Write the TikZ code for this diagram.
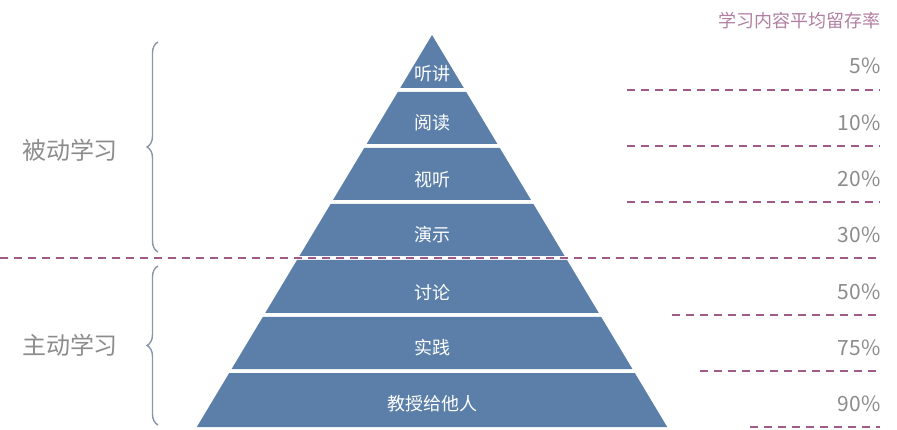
\documentclass[tikz,border=0pt]{standalone}
\usepackage{fontspec}
\setmainfont{Noto Sans CJK SC}
\usetikzlibrary{decorations.pathreplacing}
\definecolor{pyrblue}{HTML}{5B7FA8}
\definecolor{dashpink}{HTML}{A05A88}
\definecolor{headpink}{HTML}{B07FA2}
\definecolor{txtgray}{HTML}{8C8C8C}
\definecolor{bracegray}{HTML}{8A97AA}
\begin{document}
\begin{tikzpicture}[%
    x=1pt, y=-1pt,
    band/.style={fill=pyrblue, draw=none},
    bandtext/.style={text=white, font=\fontsize{18}{18}\selectfont},
    rate/.style={text=txtgray, anchor=east, font=\fontsize{21}{21}\selectfont},
    sep/.style={dashpink, line width=1.3pt, dash pattern=on 8pt off 6pt},
    grouplabel/.style={text=txtgray, font=\fontsize{24}{24}\selectfont},
    groupbrace/.style={bracegray, line width=1.4pt, decorate,
      decoration={brace, amplitude=11pt}}
  ]
    \useasboundingbox (0,0) rectangle (897,430);
    % pyramid bands
    \fill[band] (432,35) -- ({432-0.6*(88-35)},88) -- ({432+0.6*(88-35)},88) -- cycle;
    \foreach \t/\b in {92/144,148/200,204/256,260/313,317/369,373/427}
      \fill[band] ({432-0.6*(\t-35)},\t) -- ({432+0.6*(\t-35)},\t)
        -- ({432+0.6*(\b-35)},\b) -- ({432-0.6*(\b-35)},\b) -- cycle;
    \node[bandtext] (l1) at (432,74) {听讲};
    \node[bandtext] (l2) at (432,123) {阅读};
    \node[bandtext] (l3) at (432,180) {视听};
    \node[bandtext] (l4) at (432,235) {演示};
    \node[bandtext] (l5) at (432,292) {讨论};
    \node[bandtext] (l6) at (432,348) {实践};
    \node[bandtext] (l7) at (432,404) {教授给他人};
    % retention rates
    \node[text=headpink, anchor=east, font=\fontsize{18}{18}\selectfont] (head) at (884,21) {学习内容平均留存率};
    \node[rate] (r1) at (884,66) {5\%};
    \node[rate] (r2) at (884,123) {10\%};
    \node[rate] (r3) at (884,179) {20\%};
    \node[rate] (r4) at (884,235) {30\%};
    \node[rate] (r5) at (884,292) {50\%};
    \node[rate] (r6) at (884,348) {75\%};
    \node[rate] (r7) at (884,404) {90\%};
    % dashed separators
    \coordinate (s1a) at (627,90);  \coordinate (s1b) at (880,90);
    \coordinate (s2a) at (627,146); \coordinate (s2b) at (880,146);
    \coordinate (s3a) at (627,202); \coordinate (s3b) at (880,202);
    \coordinate (s4a) at (0,258);   \coordinate (s4b) at (880,258);
    \coordinate (s5a) at (672,315); \coordinate (s5b) at (880,315);
    \coordinate (s6a) at (700,371); \coordinate (s6b) at (880,371);
    \coordinate (s7a) at (750,427); \coordinate (s7b) at (880,427);
    \foreach \i in {1,...,7}
      \draw[sep] (s\i a) -- (s\i b);
    % groups
    \coordinate (b1t) at (158,42);  \coordinate (b1b) at (158,252);
    \coordinate (b2t) at (158,266); \coordinate (b2b) at (158,425);
    \draw[groupbrace] (b1b) -- (b1t);
    \draw[groupbrace] (b2b) -- (b2t);
    \node[grouplabel] (passive) at (70,150) {被动学习};
    \node[grouplabel] (active) at (70,345) {主动学习};
  \end{tikzpicture}
\end{document}
